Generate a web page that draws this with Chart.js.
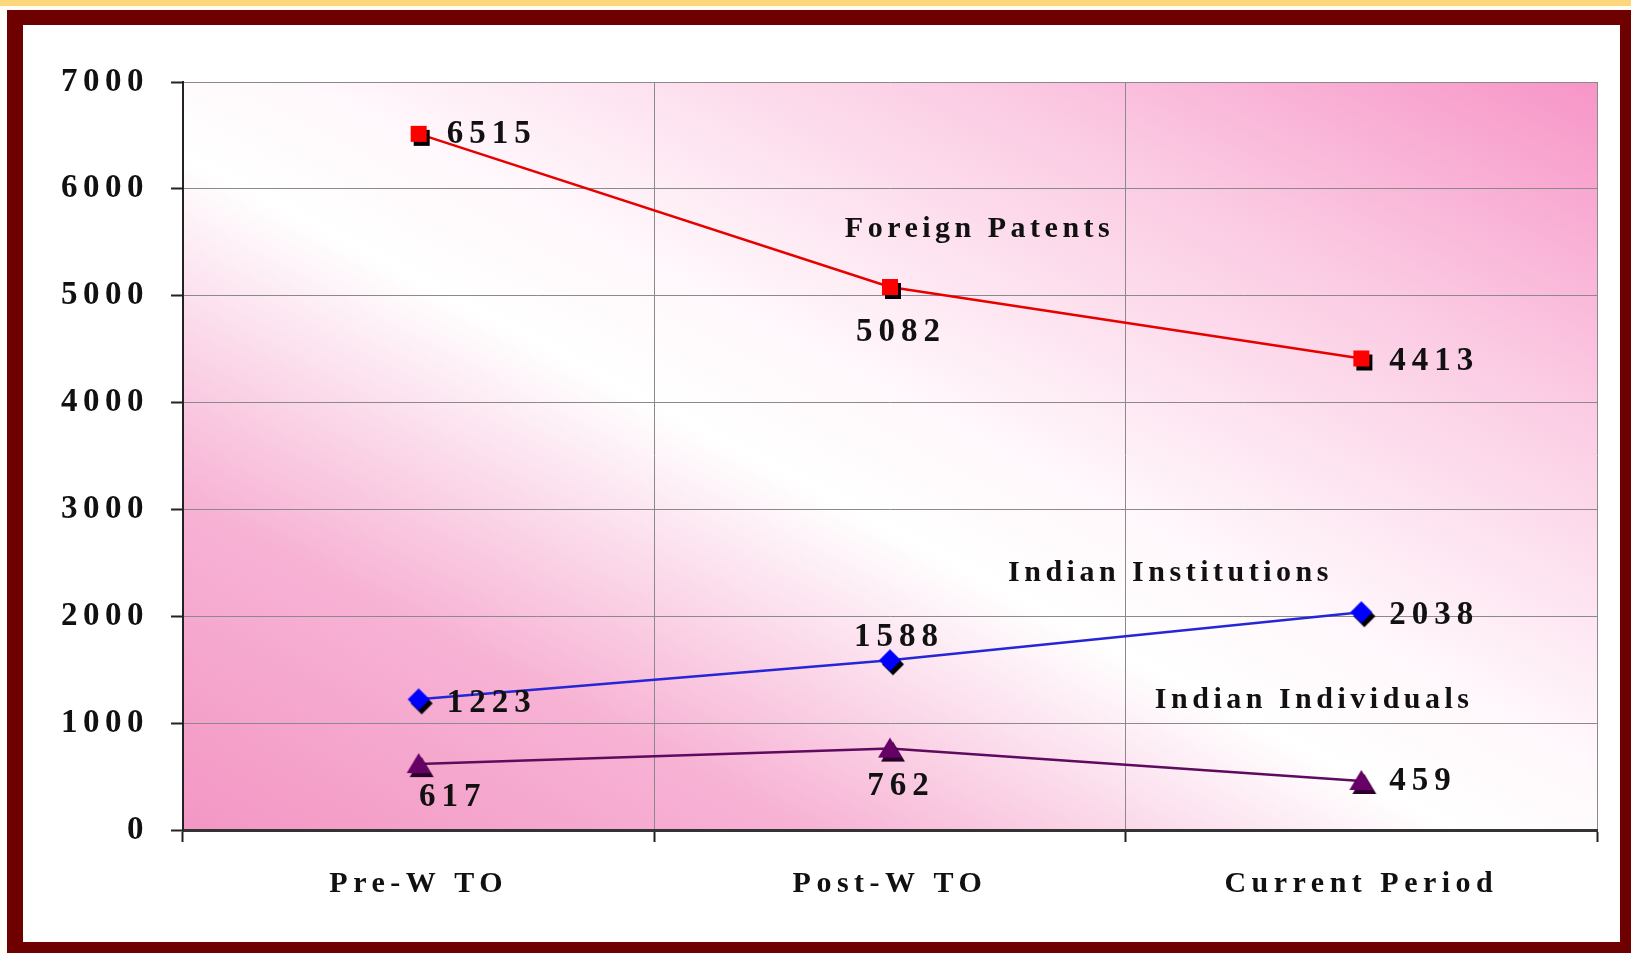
<!DOCTYPE html>
<html>
<head>
<meta charset="utf-8">
<script src="https://cdn.jsdelivr.net/npm/chart.js@4"></script>
<style>
  html, body { margin: 0; padding: 0; background: #fffdf6; overflow: hidden; }
  #band { position: absolute; left: 0; top: 0; width: 1631px; height: 6px; background: #fcd77c; }
  #frame { position: absolute; left: 7px; top: 10px; width: 1624px; height: 943px; box-sizing: border-box;
           border-style: solid; border-color: #6f0000; border-width: 15px 11px 11px 16px; background: #fff; }
  #patentChart { position: absolute; left: 0; top: 0; }
</style>
</head>
<body>
<div id="band"></div>
<div id="frame"></div>
<canvas id="patentChart" width="1631" height="953"></canvas>
<script>
// values
const periods = ['Pre-W TO', 'Post-W TO', 'Current Period'];
const foreignPatents = [6515, 5082, 4413];
const indianInstitutions = [1223, 1588, 2038];
const indianIndividuals = [617, 762, 459];
const seriesNames = ['Foreign Patents', 'Indian Institutions', 'Indian Individuals'];
const yTicks = [0, 1000, 2000, 3000, 4000, 5000, 6000, 7000];

// where the value labels sit relative to each marker (pixels)
const labelPlace = [
    [{align: 'left', dx: 28, dy: 1}, {align: 'center', dx: 11, dy: 46}, {align: 'left', dx: 28, dy: 3}],
    [{align: 'left', dx: 28, dy: 4}, {align: 'center', dx: 9, dy: -23}, {align: 'left', dx: 28, dy: 3}],
    [{align: 'center', dx: 34, dy: 33}, {align: 'center', dx: 11, dy: 38}, {align: 'left', dx: 28, dy: 1}]
];
// series name anchors, in axis units (category index, value)
const namePlace = [{x: 1.19, y: 5620}, {x: 1.595, y: 2400}, {x: 1.90, y: 1215}];

const serif = "'Liberation Serif', 'Times New Roman', serif";

function markerImage(shape, color, shadow) {
    const c = document.createElement('canvas');
    c.width = 36; c.height = 36;
    const g = c.getContext('2d');
    const path = (cx, cy) => {
        g.beginPath();
        if (shape === 'square') {
            g.rect(cx - 8, cy - 8, 16, 16);
        } else if (shape === 'diamond') {
            g.moveTo(cx, cy - 11); g.lineTo(cx + 11, cy); g.lineTo(cx, cy + 11); g.lineTo(cx - 11, cy);
            g.closePath();
        } else {
            g.moveTo(cx, cy - 11); g.lineTo(cx + 12, cy + 9); g.lineTo(cx - 12, cy + 9);
            g.closePath();
        }
    };
    path(21, 22); g.fillStyle = shadow; g.fill();
    path(18, 18); g.fillStyle = color; g.fill();
    return c;
}

const plotBackground = {
    id: 'plotBackground',
    beforeDraw(chart) {
        const {ctx, chartArea: a} = chart;
        const cx = (a.left + a.right) / 2, cy = (a.top + a.bottom) / 2;
        const w = a.right - a.left, h = a.bottom - a.top;
        const len = Math.hypot(w, h);
        const gx = h / len, gy = -w / len;           // across the top-left/bottom-right diagonal
        const half = Math.abs((-w / 2) * gx + (h / 2) * gy);
        const grad = ctx.createLinearGradient(cx - half * gx, cy - half * gy, cx + half * gx, cy + half * gy);
        grad.addColorStop(0, '#f397c4');
        grad.addColorStop(0.22, '#f7b2d4');
        grad.addColorStop(0.45, '#ffffff');
        grad.addColorStop(0.55, '#fff7fb');
        grad.addColorStop(0.78, '#fbcbe3');
        grad.addColorStop(1, '#f795c7');
        ctx.save();
        ctx.fillStyle = grad;
        ctx.fillRect(a.left, a.top, w, h);
        ctx.restore();
        ctx.letterSpacing = '5.5px';
    }
};

const pointLabels = {
    id: 'pointLabels',
    afterDatasetsDraw(chart) {
        const ctx = chart.ctx;
        ctx.save();
        ctx.fillStyle = '#111';
        ctx.textBaseline = 'middle';
        ctx.font = 'bold 33px ' + serif;
        ctx.letterSpacing = '6px';
        chart.data.datasets.forEach((ds, i) => {
            chart.getDatasetMeta(i).data.forEach((pt, j) => {
                const p = labelPlace[i][j];
                ctx.textAlign = p.align;
                ctx.fillText(String(ds.data[j]), pt.x + p.dx, pt.y + p.dy);
            });
        });
        ctx.font = 'bold 30px ' + serif;
        ctx.letterSpacing = '4.5px';
        ctx.textAlign = 'center';
        const xs = chart.scales.x, ys = chart.scales.y;
        seriesNames.forEach((name, i) => {
            ctx.fillText(name, xs.getPixelForValue(namePlace[i].x), ys.getPixelForValue(namePlace[i].y));
        });
        ctx.restore();
    }
};

const ctx = document.getElementById('patentChart').getContext('2d');
const patentChart = new Chart(ctx, {
    type: 'line',
    data: {
        labels: periods,
        datasets: [
            {
                label: seriesNames[0],
                data: foreignPatents,
                borderColor: '#e80000',
                borderWidth: 2.5,
                pointStyle: markerImage('square', '#ff0000', '#000'),
                tension: 0
            },
            {
                label: seriesNames[1],
                data: indianInstitutions,
                borderColor: '#2626d6',
                borderWidth: 2.5,
                pointStyle: markerImage('diamond', '#0000ff', '#000'),
                tension: 0
            },
            {
                label: seriesNames[2],
                data: indianIndividuals,
                borderColor: '#5e0a5e',
                borderWidth: 2.5,
                pointStyle: markerImage('triangle', '#660066', '#2a002a'),
                tension: 0
            }
        ]
    },
    options: {
        responsive: false,
        animation: false,
        devicePixelRatio: 1,
        layout: { padding: { top: 82, right: 34, left: 0, bottom: 0 } },
        plugins: {
            legend: { display: false },
            tooltip: { enabled: false }
        },
        scales: {
            x: {
                offset: true,
                grid: { offset: true, color: '#8a8a8a', lineWidth: 1, tickColor: '#222', tickLength: 12, tickWidth: 2 },
                border: { color: '#333', width: 3 },
                ticks: { color: '#111', padding: 24, font: { family: serif, size: 30, weight: 'bold' } },
                afterFit: (s) => { s.height = 123; }
            },
            y: {
                min: 0,
                max: 7000,
                afterBuildTicks: (s) => { s.ticks = yTicks.map(v => ({ value: v })); },
                grid: { color: '#8a8a8a', lineWidth: 1, tickColor: '#222', tickLength: 12, tickWidth: 2 },
                border: { color: '#222', width: 2 },
                ticks: {
                    color: '#111',
                    padding: 22,
                    font: { family: serif, size: 33, weight: 'bold' },
                    callback: (v) => String(v)
                },
                afterFit: (s) => { s.width = 183; }
            }
        }
    },
    plugins: [plotBackground, pointLabels]
});
</script>
</body>
</html>
